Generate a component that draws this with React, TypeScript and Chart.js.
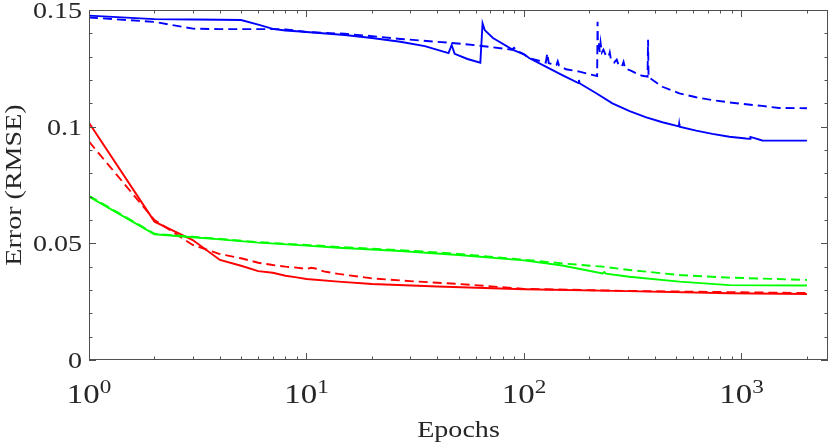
import React, { useEffect, useRef } from "react";
import { Chart, registerables } from "chart.js";

Chart.register(...registerables);

// ---------------- data ----------------
const blueSolidEpochs = [1, 2, 3, 4, 5, 6, 7, 8, 9, 10, 15, 20, 27, 35, 45, 46.5, 48, 55, 63, 64.5, 66, 72, 77, 89, 100, 106, 126, 150, 178, 179, 180, 215, 255, 306, 365, 433, 515, 517, 519, 619, 735, 880, 1050, 1098, 1100, 1247, 1490, 2000];
const blueSolidRMSE = [0.1476, 0.1461, 0.1459, 0.1458, 0.1457, 0.1437, 0.1419, 0.1412, 0.1409, 0.1406, 0.1393, 0.1380, 0.1364, 0.1345, 0.1315, 0.1350, 0.1312, 0.1290, 0.1274, 0.1443, 0.1414, 0.1380, 0.1364, 0.1329, 0.1310, 0.1293, 0.1257, 0.1221, 0.1187, 0.1200, 0.1186, 0.1143, 0.1100, 0.1067, 0.1040, 0.1019, 0.1001, 0.1012, 0.1000, 0.0983, 0.0969, 0.0957, 0.0949, 0.0948, 0.0956, 0.0941, 0.0940, 0.0940];

const blueDashedEpochs = [1, 2, 3, 4, 5, 6, 7, 8, 10, 15, 20, 27, 45, 60, 72, 88, 90, 92, 100, 106, 126, 128, 130, 141, 143, 145, 156, 180, 208, 217, 218, 219, 221, 223, 225, 228, 232, 238, 245, 248, 251, 260, 267, 272, 282, 287, 292, 310, 330, 350, 370, 372, 374, 433, 518, 619, 735, 880, 1050, 1247, 1490, 2000];
const blueDashedRMSE = [0.1468, 0.1449, 0.1420, 0.1418, 0.1418, 0.1418, 0.1418, 0.1417, 0.1406, 0.1398, 0.1388, 0.1376, 0.1360, 0.1349, 0.1340, 0.1330, 0.1338, 0.1328, 0.1310, 0.1293, 0.1275, 0.1314, 0.1272, 0.1264, 0.1280, 0.1262, 0.1246, 0.1236, 0.1221, 0.1217, 0.1450, 0.1330, 0.1364, 0.1320, 0.1360, 0.1318, 0.1330, 0.1305, 0.1300, 0.1318, 0.1290, 0.1275, 0.1287, 0.1265, 0.1258, 0.1278, 0.1249, 0.1240, 0.1228, 0.1218, 0.1214, 0.1372, 0.1212, 0.1171, 0.1143, 0.1126, 0.1114, 0.1104, 0.1096, 0.1089, 0.1080, 0.1079];

const redSolidEpochs = [1, 2, 3, 4, 5, 6, 7, 8, 9, 10, 14, 20, 40, 100, 300, 880, 2000];
const redSolidRMSE = [0.1017, 0.0593, 0.0514, 0.0429, 0.0404, 0.0381, 0.0374, 0.0361, 0.0354, 0.0347, 0.0336, 0.0326, 0.0315, 0.0303, 0.0295, 0.0286, 0.0283];

const redDashedEpochs = [1, 2, 3, 4, 5, 6, 7, 8, 9, 10, 10.5, 11, 12, 14, 20, 30, 50, 100, 300, 2000];
const redDashedRMSE = [0.0936, 0.0600, 0.0493, 0.0454, 0.0436, 0.0417, 0.0407, 0.0400, 0.0396, 0.0390, 0.0395, 0.0392, 0.0380, 0.0369, 0.0350, 0.0338, 0.0326, 0.0305, 0.0296, 0.0287];

const greenSolidEpochs = [1, 2, 3, 4, 6, 10, 14, 27, 50, 100, 150, 230, 234, 238, 305, 518, 880, 2000];
const greenSolidRMSE = [0.0700, 0.0539, 0.0526, 0.0517, 0.0503, 0.0490, 0.0481, 0.0467, 0.0450, 0.0427, 0.0405, 0.0371, 0.0377, 0.0370, 0.0357, 0.0336, 0.0321, 0.0319];

const greenDashedEpochs = [1, 2, 3, 4, 6, 10, 14, 27, 50, 100, 150, 230, 305, 518, 880, 2000];
const greenDashedRMSE = [0.0704, 0.0541, 0.0528, 0.0519, 0.0505, 0.0493, 0.0485, 0.0471, 0.0455, 0.0430, 0.0414, 0.0400, 0.0386, 0.0364, 0.0353, 0.0343];

// axes / ticks
const xMin = 1;
const xMax = 2500;
const yMin = 0;
const yMax = 0.15;
const xTickExponents = [0, 1, 2, 3];
const xMinorMultipliers = [2, 3, 4, 5, 6, 7, 8, 9];
const yTickValues = [0, 0.05, 0.1, 0.15];
const yTickLabels = ["0", "0.05", "0.1", "0.15"];
const yMinorStep = 0.01;
const xTitle = "Epochs";
const yTitle = "Error (RMSE)";

// ---------------- styling ----------------
const FONT = "'Liberation Serif', 'Times New Roman', Times, serif";
const TEXT_COLOR = "#262626";
const AXIS_COLOR = "#505050";
const SX = 1.22; // horizontal glyph stretch seen in the reference
const BLUE = "#0000ff";
const RED = "#ff0000";
const GREEN = "#00ff00";

function toPoints(e: number[], v: number[]) {
  return e.map((x, i) => ({ x, y: v[i] }));
}

function drawText(
  ctx: CanvasRenderingContext2D,
  text: string,
  x: number,
  y: number,
  size: number,
  align: CanvasTextAlign,
  rot = 0
) {
  ctx.save();
  ctx.translate(x, y);
  if (rot) ctx.rotate(rot);
  ctx.scale(SX, 1);
  ctx.font = `${size}px ${FONT}`;
  ctx.fillStyle = TEXT_COLOR;
  ctx.textAlign = align;
  ctx.textBaseline = "alphabetic";
  ctx.fillText(text, 0, 0);
  ctx.restore();
}

const framePlugin = {
  id: "matlabFrame",
  afterDatasetsDraw(chart: any) {
    const { ctx, chartArea } = chart;
    const { left, right, top, bottom } = chartArea;
    const xs = chart.scales.x;
    const ys = chart.scales.y;
    ctx.save();
    ctx.strokeStyle = AXIS_COLOR;
    ctx.lineWidth = 1;
    ctx.strokeRect(left + 0.5, top + 0.5, right - left - 1, bottom - top - 1);
    const major = 7;
    const minor = 3.5;
    ctx.beginPath();
    // x ticks
    for (let d = 0; d < xTickExponents.length; d++) {
      const base = Math.pow(10, xTickExponents[d]);
      const pxMaj = Math.round(xs.getPixelForValue(base)) + 0.5;
      ctx.moveTo(pxMaj, bottom);
      ctx.lineTo(pxMaj, bottom - major);
      ctx.moveTo(pxMaj, top);
      ctx.lineTo(pxMaj, top + major);
      for (const m of xMinorMultipliers) {
        const v = m * base;
        if (v > xMax) continue;
        const px = Math.round(xs.getPixelForValue(v)) + 0.5;
        ctx.moveTo(px, bottom);
        ctx.lineTo(px, bottom - minor);
        ctx.moveTo(px, top);
        ctx.lineTo(px, top + minor);
      }
    }
    // y ticks
    const n = Math.round((yMax - yMin) / yMinorStep);
    for (let i = 0; i <= n; i++) {
      const v = yMin + i * yMinorStep;
      const isMajor = yTickValues.some((t) => Math.abs(t - v) < 1e-9);
      const len = isMajor ? major : minor;
      const py = Math.round(ys.getPixelForValue(v)) + 0.5;
      ctx.moveTo(left, py);
      ctx.lineTo(left + len, py);
      ctx.moveTo(right, py);
      ctx.lineTo(right - len, py);
    }
    ctx.stroke();
    ctx.restore();
  },
  afterDraw(chart: any) {
    const { ctx, chartArea } = chart;
    const { left, right, top, bottom } = chartArea;
    const xs = chart.scales.x;
    const ys = chart.scales.y;
    // y tick labels
    yTickValues.forEach((v, i) => {
      const py = ys.getPixelForValue(v);
      drawText(ctx, yTickLabels[i], left - 7, py + 8, 23, "right");
    });
    // x tick labels: 10^e
    const mainSize = 27;
    const supSize = 19;
    xTickExponents.forEach((e) => {
      const px = xs.getPixelForValue(Math.pow(10, e));
      ctx.save();
      ctx.font = `${mainSize}px ${FONT}`;
      const w1 = ctx.measureText("10").width * SX;
      ctx.font = `${supSize}px ${FONT}`;
      const w2 = ctx.measureText(String(e)).width * SX;
      ctx.restore();
      const start = px - (w1 + w2) / 2;
      drawText(ctx, "10", start, bottom + 43, mainSize, "left");
      drawText(ctx, String(e), start + w1, bottom + 33, supSize, "left");
    });
    // titles
    drawText(ctx, xTitle, (left + right) / 2, bottom + 77, 23, "center");
    drawText(ctx, yTitle, 21, (top + bottom) / 2, 23, "center", -Math.PI / 2);
  },
};

export default function App() {
  const canvasRef = useRef<HTMLCanvasElement | null>(null);

  useEffect(() => {
    if (!canvasRef.current) return;
    const mk = (label: string, e: number[], v: number[], color: string, dashed: boolean) => ({
      label,
      data: toPoints(e, v),
      borderColor: color,
      backgroundColor: color,
      borderWidth: 1.9,
      borderDash: dashed ? [9, 5] : [],
      pointRadius: 0,
      tension: 0,
      fill: false,
    });
    const chart = new Chart(canvasRef.current, {
      type: "line",
      data: {
        datasets: [
          mk("blue solid", blueSolidEpochs, blueSolidRMSE, BLUE, false),
          mk("blue dashed", blueDashedEpochs, blueDashedRMSE, BLUE, true),
          mk("green solid", greenSolidEpochs, greenSolidRMSE, GREEN, false),
          mk("green dashed", greenDashedEpochs, greenDashedRMSE, GREEN, true),
          mk("red solid", redSolidEpochs, redSolidRMSE, RED, false),
          mk("red dashed", redDashedEpochs, redDashedRMSE, RED, true),
        ],
      },
      options: {
        responsive: false,
        animation: false,
        layout: { padding: { left: 89, top: 10, right: 2, bottom: 84 } },
        plugins: {
          legend: { display: false },
          tooltip: { enabled: false },
        },
        scales: {
          x: { type: "logarithmic", min: xMin, max: xMax, display: false },
          y: { type: "linear", min: yMin, max: yMax, display: false },
        },
      },
      plugins: [framePlugin],
    });
    return () => chart.destroy();
  }, []);

  return (
    <div style={{ position: "absolute", left: 0, top: 0, width: 830, height: 444, background: "#fff" }}>
      <canvas ref={canvasRef} width={830} height={444} style={{ display: "block" }} />
    </div>
  );
}
